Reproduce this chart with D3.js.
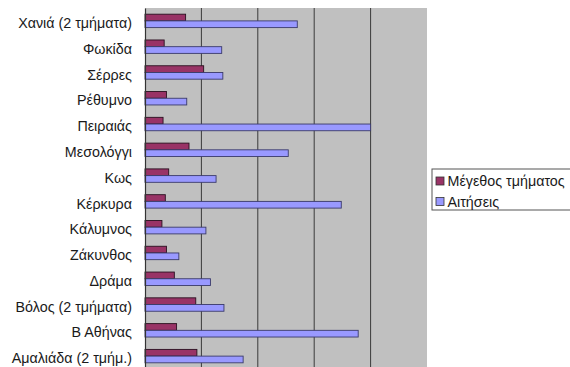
<!DOCTYPE html>
<html>
<head>
<meta charset="utf-8">
<script src="https://cdn.jsdelivr.net/npm/d3@7"></script>
<style>
  html, body { margin: 0; padding: 0; background: #fff; }
  svg { display: block; }
  text { font-family: "Liberation Sans", Arial, sans-serif; }
</style>
</head>
<body>
<svg id="chart" width="570" height="367"></svg>
<script>
// Departments, top to bottom
const categories = [
  "Χανιά (2 τμήματα)", "Φωκίδα", "Σέρρες", "Ρέθυμνο", "Πειραιάς",
  "Μεσολόγγι", "Κως", "Κέρκυρα", "Κάλυμνος", "Ζάκυνθος",
  "Δράμα", "Βόλος (2 τμήματα)", "Β Αθήνας", "Αμαλιάδα (2 τμήμ.)"
];
const seriesNames = ["Μέγεθος τμήματος", "Αιτήσεις"];
const groupSize    = [36, 17, 52, 19, 16, 39, 21, 18, 15, 19, 26, 45, 28, 46];
const applications = [135, 68, 69, 37, 200, 127, 63, 174, 54, 30, 58, 70, 189, 87];
const gridTicks = [50, 100, 150, 200];

const colors = ["#993366", "#9999ff"];
const svg = d3.select("#chart");

const plot = { left: 145, right: 427, top: 8, bottom: 369 };

const x = d3.scaleLinear().domain([0, 250]).range([plot.left, plot.right]);
const y = d3.scaleBand().domain(categories)
  .range([plot.top, plot.bottom]).paddingInner(0.48).paddingOuter(0.24);
const sub = d3.scaleBand().domain(seriesNames).range([0, y.bandwidth()]);

// plot background
svg.append("rect")
  .attr("x", plot.left).attr("y", plot.top)
  .attr("width", plot.right - plot.left).attr("height", plot.bottom - plot.top)
  .attr("fill", "#c0c0c0");

// vertical gridlines
svg.append("g").selectAll("line").data(gridTicks).join("line")
  .attr("x1", d => x(d)).attr("x2", d => x(d))
  .attr("y1", plot.top).attr("y2", plot.bottom)
  .attr("stroke", "#3a3a3a").attr("stroke-width", 1);

// bars
const series = [groupSize, applications];
const rows = categories.map((c, i) => ({ c, vals: series.map(s => s[i]) }));
const g = svg.append("g").selectAll("g").data(rows).join("g")
  .attr("transform", d => `translate(0,${y(d.c)})`);
g.selectAll("rect").data(d => d.vals.map((v, k) => ({ v, k }))).join("rect")
  .attr("x", x(0))
  .attr("y", d => sub(seriesNames[d.k]))
  .attr("width", d => x(d.v) - x(0))
  .attr("height", sub.bandwidth())
  .attr("fill", d => colors[d.k])
  .attr("stroke", d => d.k === 0 ? "#2a1020" : "#3a3a6a")
  .attr("stroke-width", 0.9);

// category axis
const yAxis = svg.append("g").attr("transform", `translate(${plot.left},0)`)
  .call(d3.axisLeft(y).tickSize(0).tickPadding(13));
yAxis.select(".domain").attr("stroke", "#333").attr("stroke-width", 1.2);
yAxis.selectAll("text")
  .attr("font-size", "14.3px")
  .attr("font-family", "Liberation Sans, Arial, sans-serif")
  .attr("fill", "#1a1a1a")
  .attr("dy", "0.5em");

// legend
const lg = svg.append("g");
lg.append("rect").attr("x", 432).attr("y", 169).attr("width", 150).attr("height", 41)
  .attr("fill", "#fff").attr("stroke", "#555").attr("stroke-width", 1);
const items = lg.selectAll("g").data(seriesNames).join("g")
  .attr("transform", (d, i) => `translate(436,${181 + i * 20.5})`);
items.append("rect").attr("x", 0).attr("y", -4).attr("width", 8).attr("height", 8)
  .attr("fill", (d, i) => colors[i]).attr("stroke", "#333").attr("stroke-width", 0.8);
items.append("text").attr("x", 11.5).attr("y", 0).attr("dy", "0.35em")
  .attr("font-size", "14.3px").attr("fill", "#1a1a1a").text(d => d);
</script>
</body>
</html>
